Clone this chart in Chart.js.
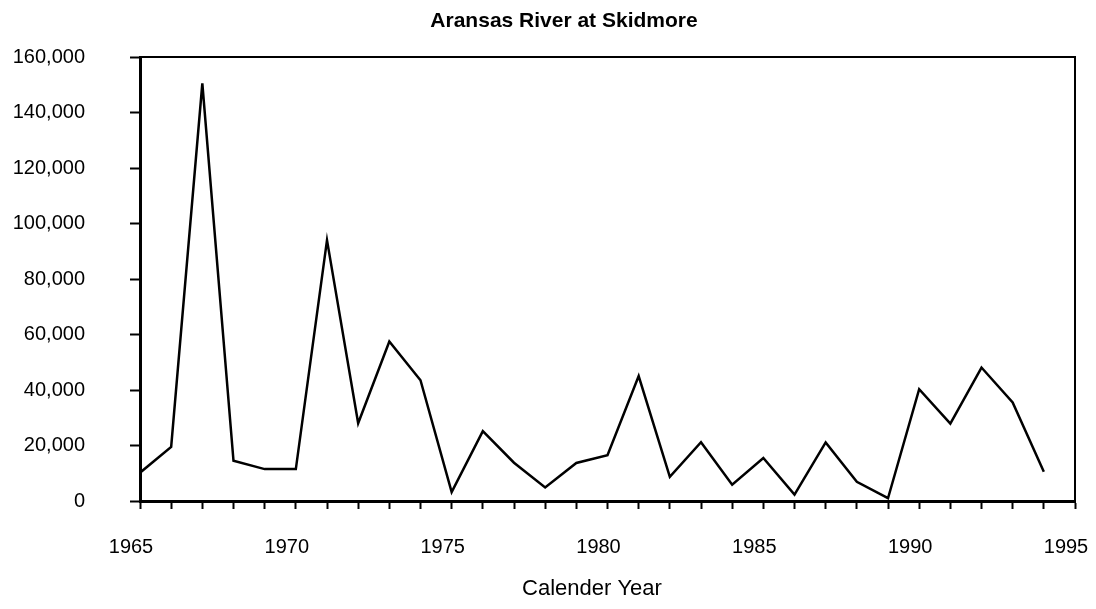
<!DOCTYPE html>
<html>
<head>
<meta charset="utf-8">
<title>Aransas River at Skidmore</title>
<script src="https://cdn.jsdelivr.net/npm/chart.js@4.4.0/dist/chart.umd.min.js"></script>
<style>
  html, body { margin: 0; padding: 0; background: #fff; }
  #wrap { width: 1096px; height: 609px; }
</style>
</head>
<body>
<div id="wrap"><canvas id="myChart" width="1096" height="609"></canvas></div>
<script>
// annual flow
var years = [1965, 1966, 1967, 1968, 1969, 1970, 1971, 1972, 1973, 1974,
             1975, 1976, 1977, 1978, 1979, 1980, 1981, 1982, 1983, 1984,
             1985, 1986, 1987, 1988, 1989, 1990, 1991, 1992, 1993, 1994];
var flow = [10200, 19500, 150500, 14500, 11500, 11500, 94000, 28000, 57500, 43500,
            3200, 25200, 13800, 4900, 13700, 16500, 45000, 8700, 21200, 5900,
            15500, 2300, 21100, 6900, 1000, 40300, 27900, 48100, 35500, 10500];
var xTickLabels = [1965, 1970, 1975, 1980, 1985, 1990, 1995];
var yTicks = [0, 20000, 40000, 60000, 80000, 100000, 120000, 140000, 160000];

var chartTitle = "Aransas River at Skidmore";
var xTitle = "Calender Year";
var fontName = "'Liberation Sans', Arial, sans-serif";

// title and axis title sit off-centre in the original, so draw them by hand
var textPlugin = {
    id: 'textPlugin',
    afterDraw: function(chart) {
        var c = chart.ctx;
        var a = chart.chartArea;
        c.save();
        // top and right frame
        c.strokeStyle = '#000';
        c.lineWidth = 2;
        c.beginPath();
        c.moveTo(a.left, a.top);
        c.lineTo(a.right, a.top);
        c.lineTo(a.right, a.bottom);
        c.stroke();

        c.fillStyle = '#000';
        c.textAlign = 'center';
        c.textBaseline = 'middle';
        c.font = "bold 21px " + fontName;
        c.fillText(chartTitle, 564, 21);
        c.font = "22px " + fontName;
        c.fillText(xTitle, 592, 589);
        c.restore();
    }
};

var ctx = document.getElementById('myChart').getContext('2d');
var myChart = new Chart(ctx, {
    type: 'line',
    data: {
        datasets: [{
            data: years.map(function(y, i) { return { x: y, y: flow[i] }; }),
            borderColor: '#000',
            borderWidth: 2.5,
            pointRadius: 0,
            tension: 0,
            fill: false
        }]
    },
    options: {
        responsive: false,
        animation: false,
        layout: { padding: { top: 56, left: 0, right: 21, bottom: 0 } },
        plugins: {
            legend: { display: false },
            title: { display: false },
            tooltip: { enabled: false }
        },
        scales: {
            x: {
                type: 'linear',
                min: 1965,
                max: 1995,
                border: { color: '#000', width: 3 },
                grid: { drawOnChartArea: false, drawTicks: true, tickLength: 8, color: '#000', tickWidth: 2 },
                ticks: {
                    stepSize: 1,
                    autoSkip: false,
                    maxRotation: 0,
                    minRotation: 0,
                    padding: 26,
                    labelOffset: -9,
                    color: '#000',
                    font: { family: fontName, size: 20 },
                    callback: function(v) {
                        return xTickLabels.indexOf(v) >= 0 ? String(v) : '';
                    }
                },
                afterFit: function(s) {
                    s.height = 108;
                    s.paddingLeft = 0;
                    s.paddingRight = 0;
                }
            },
            y: {
                min: 0,
                max: 160000,
                border: { color: '#000', width: 3 },
                grid: { drawOnChartArea: false, drawTicks: true, tickLength: 10, color: '#000', tickWidth: 2 },
                afterBuildTicks: function(s) {
                    s.ticks = yTicks.map(function(v) { return { value: v }; });
                },
                ticks: {
                    padding: 45,
                    color: '#000',
                    font: { family: fontName, size: 20 },
                    callback: function(v) {
                        return Number(v).toLocaleString('en-US');
                    }
                },
                afterFit: function(s) {
                    s.width = 140;
                }
            }
        }
    },
    plugins: [textPlugin]
});
</script>
</body>
</html>
